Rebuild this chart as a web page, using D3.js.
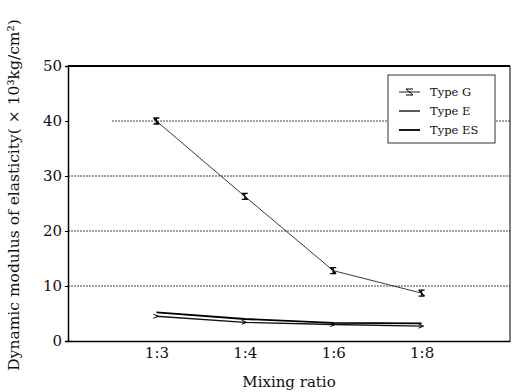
<!DOCTYPE html>
<html>
<head>
<meta charset="utf-8">
<script src="https://cdn.jsdelivr.net/npm/d3@7"></script>
<style>
  body { margin: 0; background: #fff; }
  text { font-family: "DejaVu Serif", "Liberation Serif", serif; fill: #111; }
</style>
</head>
<body>
<div id="grafico"></div>
<script>
const width = 513
const height = 392

const ratios = ['1:3', '1:4', '1:6', '1:8']
const typeG = [40.0, 26.3, 12.8, 8.7]
const typeE = [4.5, 3.4, 3.0, 2.7]
const typeES = [5.2, 4.0, 3.3, 3.2]
const yTicks = [0, 10, 20, 30, 40, 50]

const margin = {top: 66, right: 3, bottom: 51, left: 68}

const svg = d3.select('#grafico').append('svg')
              .attr('width', width)
              .attr('height', height)

const x = d3.scalePoint()
            .domain(ratios)
            .range([margin.left, width - margin.right])
            .padding(1)

const y = d3.scaleLinear()
            .domain([0, 50])
            .range([height - margin.bottom, margin.top])

// dotted grid lines
svg.append('g')
   .selectAll('line')
   .data(yTicks.slice(1, 5))
   .enter()
   .append('line')
   .attr('x1', d => d == 40 ? 112 : margin.left)
   .attr('x2', width - margin.right)
   .attr('y1', d => y(d))
   .attr('y2', d => y(d))
   .attr('stroke', '#444')
   .attr('stroke-width', 1)
   .attr('stroke-dasharray', '2,1')

// axes
const yAxis = svg.append('g')
                 .attr('transform', `translate(${margin.left},0)`)
                 .call(d3.axisLeft(y).tickValues(yTicks).tickSize(3).tickPadding(3))
yAxis.select('.domain').attr('stroke-width', 1.5)
yAxis.selectAll('text').style('font-size', '15px').style('font-family', '"DejaVu Serif", serif')

const xAxis = svg.append('g')
                 .attr('transform', `translate(0,${height - margin.bottom})`)
                 .call(d3.axisBottom(x).tickSize(0).tickPadding(6))
xAxis.select('.domain').attr('stroke-width', 1.5)
xAxis.selectAll('text').style('font-size', '15px').style('font-family', '"DejaVu Serif", serif')

// frame
svg.append('line')
   .attr('x1', margin.left).attr('x2', width - margin.right)
   .attr('y1', y(50)).attr('y2', y(50))
   .attr('stroke', '#000').attr('stroke-width', 2)
svg.append('line')
   .attr('x1', width - margin.right).attr('x2', width - margin.right)
   .attr('y1', y(50)).attr('y2', y(0))
   .attr('stroke', '#000').attr('stroke-width', 1)

// series
const line = d3.line()
               .x((d, i) => x(ratios[i]))
               .y(d => y(d))

svg.append('path')
   .datum(typeG)
   .attr('d', line)
   .attr('fill', 'none')
   .attr('stroke', '#222')
   .attr('stroke-width', 0.9)

svg.append('path')
   .datum(typeE)
   .attr('d', line)
   .attr('fill', 'none')
   .attr('stroke', '#111')
   .attr('stroke-width', 1.3)

svg.append('path')
   .datum(typeES)
   .attr('d', line)
   .attr('fill', 'none')
   .attr('stroke', '#000')
   .attr('stroke-width', 1.8)

// error-bar markers on type G
const marks = svg.append('g')
                 .selectAll('g')
                 .data(typeG)
                 .enter()
                 .append('g')
                 .attr('transform', (d, i) => `translate(${x(ratios[i])},${y(d)})`)
marks.append('path')
     .attr('d', 'M-3,-3H3M-3,3H3M-3,-3L3,3M0,-3V3')
     .attr('stroke', '#000')
     .attr('stroke-width', 1.3)
     .attr('fill', 'none')

// small markers on type E
svg.append('g')
   .selectAll('path')
   .data(typeE)
   .enter()
   .append('path')
   .attr('transform', (d, i) => `translate(${x(ratios[i])},${y(d)})`)
   .attr('d', 'M-3,-2L2,0L-3,2')
   .attr('stroke', '#000')
   .attr('fill', 'none')

// legend
const legend = svg.append('g').attr('transform', 'translate(388,75)')
legend.append('rect')
      .attr('width', 107)
      .attr('height', 68)
      .attr('fill', '#fff')
      .attr('stroke', '#333')
      .attr('stroke-width', 1)
const legendNames = ['Type G', 'Type E', 'Type ES']
const legendWidths = [0.9, 1.3, 1.8]
const item = legend.selectAll('.item')
                   .data(legendNames)
                   .enter()
                   .append('g')
                   .attr('transform', (d, i) => `translate(0,${17 + i * 19})`)
item.append('line')
    .attr('x1', 11).attr('x2', 32)
    .attr('stroke', '#000')
    .attr('stroke-width', (d, i) => legendWidths[i])
item.filter((d, i) => i == 0)
    .append('path')
    .attr('d', 'M18,-3H25M18,3H25M18,-3L25,3')
    .attr('stroke', '#000')
    .attr('fill', 'none')
item.append('text')
    .attr('x', 42)
    .attr('dy', '0.35em')
    .style('font-size', '11.5px')
    .text(d => d)

// axis titles
svg.append('text')
   .attr('x', x('1:4') + (x('1:6') - x('1:4')) / 2)
   .attr('y', 387)
   .attr('text-anchor', 'middle')
   .style('font-size', '15px')
   .text('Mixing ratio')

svg.append('text')
   .attr('transform', 'translate(19,195) rotate(-90)')
   .attr('text-anchor', 'middle')
   .style('font-size', '15.5px')
   .text('Dynamic modulus of elasticity( × 10³kg/cm²)')
</script>
</body>
</html>
